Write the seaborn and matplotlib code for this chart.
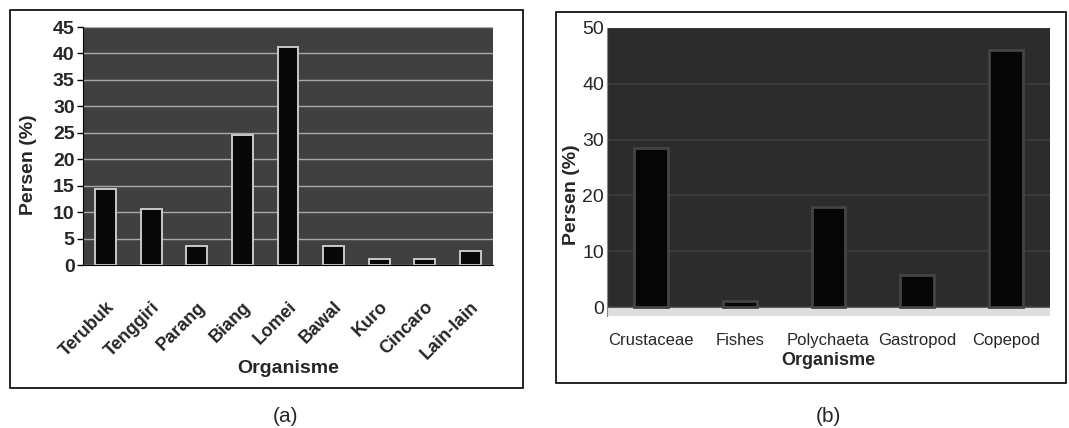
import numpy as np
import pandas as pd
import seaborn as sns
import matplotlib.pyplot as plt
from matplotlib.patches import Rectangle

# Data
fish_names = ["Terubuk", "Tenggiri", "Parang", "Biang", "Lomei", "Bawal", "Kuro", "Cincaro", "Lain-lain"]
fish_percent = [14.4, 10.5, 3.5, 24.5, 41.3, 3.5, 1.2, 1.2, 2.7]
a_yticks = [0, 5, 10, 15, 20, 25, 30, 35, 40, 45]

prey_names = ["Crustaceae", "Fishes", "Polychaeta", "Gastropod", "Copepod"]
prey_percent = [28.5, 1.0, 18.0, 5.8, 46.0]
b_yticks = [0, 10, 20, 30, 40, 50]

sns.set_style("white")
plt.rcParams['font.family'] = ['Liberation Sans', 'DejaVu Sans']

W, H = 1069, 428
fig = plt.figure(figsize=(W / 100, H / 100), dpi=100)


def px_axes(left, top, right, bottom):
    # convert pixel box to figure fraction
    return fig.add_axes([left / W, 1 - bottom / H, (right - left) / W, (bottom - top) / H])


# Outer frames around each panel
fig.patches.append(Rectangle((10 / W, 1 - 388 / H), 513 / W, 378 / H, transform=fig.transFigure,
                             fill=False, edgecolor='black', linewidth=1.2))
fig.patches.append(Rectangle((556 / W, 1 - 383 / H), 510 / W, 371 / H, transform=fig.transFigure,
                             fill=False, edgecolor='black', linewidth=1.2))

# ---------------- panel (a) ----------------
df_a = pd.DataFrame({"Organisme": fish_names, "Persen": fish_percent})
ax1 = px_axes(83, 27, 493, 265)
ax1.set_facecolor('#404040')
ax1.set_axisbelow(True)
ax1.yaxis.grid(True, color='#a8a8a8', linewidth=1.0)
sns.barplot(data=df_a, x="Organisme", y="Persen", ax=ax1, color='#080808',
            width=0.46, edgecolor='#c8c8c8', linewidth=1.4, saturation=1)
ax1.set_ylim(0, 45)
ax1.set_xlim(-0.5, len(fish_names) - 0.5)
ax1.set_yticks(a_yticks)
ax1.set_yticklabels([str(t) for t in a_yticks], fontsize=14, fontweight='bold')
ax1.set_xticks(np.arange(-0.5, len(fish_names)), minor=True)
ax1.set_xticklabels(fish_names, rotation=45, ha='right', rotation_mode='anchor',
                    fontsize=13, fontweight='bold')
ax1.tick_params(axis='x', which='major', length=0, pad=24)
ax1.tick_params(axis='x', which='minor', length=5, width=1, color='black', direction='out')
ax1.tick_params(axis='y', length=4, width=1, color='black', direction='out', left=True, pad=2)
for s in ['top', 'right']:
    ax1.spines[s].set_visible(False)
ax1.spines['left'].set_color('black')
ax1.spines['bottom'].set_color('black')
ax1.set_ylabel("Persen (%)", fontsize=14, fontweight='bold')
ax1.yaxis.set_label_coords(-0.112, 0.42)
ax1.set_xlabel("Organisme", fontsize=14, fontweight='bold', labelpad=-2)

# ---------------- panel (b) ----------------
df_b = pd.DataFrame({"Organisme": prey_names, "Persen": prey_percent})
ax2 = px_axes(607, 28, 1050, 316)
ax2.set_facecolor('#2c2c2c')
ax2.set_axisbelow(True)
ax2.yaxis.grid(True, color='#3e3e3e', linewidth=1.2)
ax2.axhspan(-1.6, 0, color='#dedede', zorder=0.5)
sns.barplot(data=df_b, x="Organisme", y="Persen", ax=ax2, color='#060606',
            width=0.38, edgecolor='#444444', linewidth=2, saturation=1)
ax2.set_ylim(-1.6, 50)
ax2.set_xlim(-0.5, len(prey_names) - 0.5)
ax2.set_yticks(b_yticks)
ax2.set_yticklabels([str(t) for t in b_yticks], fontsize=14)
ax2.set_xticks(range(len(prey_names)))
ax2.set_xticklabels(prey_names, fontsize=12)
ax2.tick_params(axis='x', length=0, pad=12)
ax2.tick_params(axis='y', length=0, pad=2)
for s in ['top', 'right', 'bottom']:
    ax2.spines[s].set_visible(False)
ax2.spines['left'].set_color('#888888')
ax2.set_ylabel("Persen (%)", fontsize=14, fontweight='bold')
ax2.yaxis.set_label_coords(-0.061, 0.42)
ax2.set_xlabel("Organisme", fontsize=13, fontweight='bold', labelpad=3)

# panel letters
fig.text(285 / W, 1 - 417 / H, "(a)", ha='center', va='center', fontsize=15)
fig.text(828 / W, 1 - 417 / H, "(b)", ha='center', va='center', fontsize=15)

fig.savefig("out.png", dpi=100)
